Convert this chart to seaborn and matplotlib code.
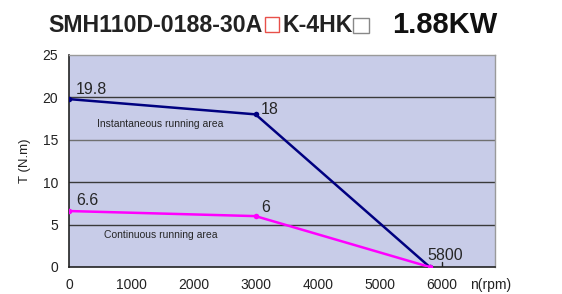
import matplotlib
matplotlib.use("Agg")
import matplotlib.pyplot as plt
from matplotlib.patches import Rectangle
import seaborn as sns
import pandas as pd

speed = [0, 3000, 5800]
peak_torque = [19.8, 18, 0]
cont_torque = [6.6, 6, 0]
peak_labels = ["19.8", "18", "5800"]
cont_labels = ["6.6", "6", ""]
x_ticks = [0, 1000, 2000, 3000, 4000, 5000, 6000]
y_ticks = [0, 5, 10, 15, 20, 25]

sns.set_style("white")
plt.rcParams['font.family'] = ['Liberation Sans', 'DejaVu Sans']

df = pd.DataFrame({
    "n": speed * 2,
    "T": peak_torque + cont_torque,
    "curve": ["peak"] * 3 + ["cont"] * 3,
})

W, H = 562, 294
fig = plt.figure(figsize=(5.62, 2.94), dpi=100)
ax = fig.add_axes([69/W, 27/H, (495-69)/W, (267-55)/H])
ax.set_facecolor("#C8CCE8")

for y in [5, 10, 15, 20]:
    ax.axhline(y, color="#707070" if y == 15 else "#3a3a3a", lw=1.0, zorder=1)

sns.lineplot(data=df, x="n", y="T", hue="curve",
             palette={"peak": "#000080", "cont": "#FF00FF"},
             marker="o", markersize=4, markeredgewidth=0, lw=1.8,
             legend=False, ax=ax, zorder=3)

ax.set_xlim(0, 6850)
ax.set_ylim(0, 25)
ax.set_xticks(x_ticks)
ax.set_yticks(y_ticks)
ax.tick_params(axis="both", labelsize=10, length=0, pad=8, colors="#222222")
ax.set_xlabel("")
ax.set_ylabel("T (N.m)", fontsize=9.5, labelpad=8, color="#222222")

for s in ["top", "right"]:
    ax.spines[s].set_color("#9a9a9a")
    ax.spines[s].set_linewidth(1.0)
for s in ["left", "bottom"]:
    ax.spines[s].set_color("#222222")
    ax.spines[s].set_linewidth(1.2)

# inner tick at 6000
ax.plot([6000, 6000], [0, 0.6], color="#222222", lw=1, zorder=2)

fs = 11.5
ax.annotate(peak_labels[0], (speed[0], peak_torque[0]), xytext=(5, 4), textcoords="offset points", fontsize=fs)
ax.annotate(peak_labels[1], (speed[1], peak_torque[1]), xytext=(4, 0), textcoords="offset points", fontsize=fs)
ax.annotate(peak_labels[2], (speed[2], peak_torque[2]), xytext=(-2, 5), textcoords="offset points", fontsize=fs)
ax.annotate(cont_labels[0], (speed[0], cont_torque[0]), xytext=(5, 4), textcoords="offset points", fontsize=fs)
ax.annotate(cont_labels[1], (speed[1], cont_torque[1]), xytext=(4, 3), textcoords="offset points", fontsize=fs)

ax.text(450, 16.9, "Instantaneous running area", fontsize=7.5, va="center")
ax.text(560, 3.8, "Continuous running area", fontsize=7.5, va="center")

fig.text(470/W, 1 - 289/H, "n(rpm)", fontsize=10, va="baseline", ha="left", color="#222222")

# title
fig.text(48/W, 1 - 32/H, "SMH110D-0188-30A", fontsize=16.7, fontweight="bold", va="baseline", ha="left", color="#222222")
fig.text(283/W, 1 - 32/H, "K-4HK", fontsize=16.7, fontweight="bold", va="baseline", ha="left", color="#222222")
fig.text(392/W, 1 - 33/H, "1.88KW", fontsize=21, fontweight="bold", va="baseline", ha="left", color="#111111")
fig.patches.append(Rectangle((264.5/W, 1 - 32/H), 14.5/W, 15/H, transform=fig.transFigure,
                             fill=False, edgecolor="#E8504A", lw=1.0))
fig.patches.append(Rectangle((352.5/W, 1 - 32.5/H), 16/W, 15/H, transform=fig.transFigure,
                             fill=False, edgecolor="#888888", lw=1.0))

fig.savefig("out.png", dpi=100)
